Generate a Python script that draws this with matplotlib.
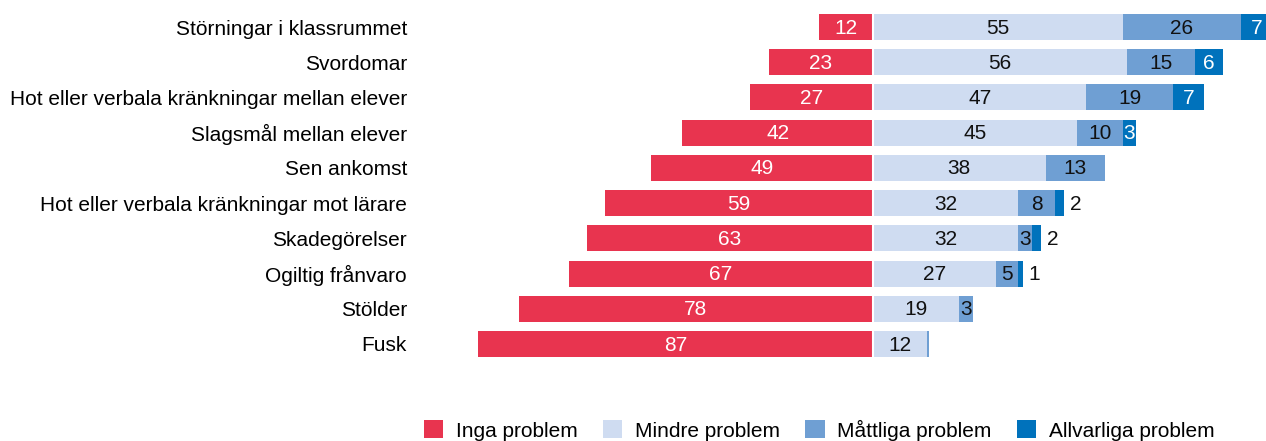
import numpy as np
import matplotlib.pyplot as plt
from matplotlib.patches import Patch

plt.rcParams['font.family'] = ['Liberation Sans', 'DejaVu Sans']

categories = [
    "Störningar i klassrummet",
    "Svordomar",
    "Hot eller verbala kränkningar mellan elever",
    "Slagsmål mellan elever",
    "Sen ankomst",
    "Hot eller verbala kränkningar mot lärare",
    "Skadegörelser",
    "Ogiltig frånvaro",
    "Stölder",
    "Fusk",
]
inga = [12, 23, 27, 42, 49, 59, 63, 67, 78, 87]
mindre = [55, 56, 47, 45, 38, 32, 32, 27, 19, 12]
mattliga = [26, 15, 19, 10, 13, 8, 3, 5, 3, 0.4]
allvarliga = [7, 6, 7, 3, 0, 2, 2, 1, 0, 0]

series_names = ["Inga problem", "Mindre problem", "Måttliga problem", "Allvarliga problem"]
colors = ["#E8344F", "#CFDCF1", "#6F9FD3", "#0072BC"]
text_colors = ["white", "#111111", "#111111", "white"]

fig = plt.figure(figsize=(12.66, 4.41), dpi=100)
ax = fig.add_axes([419 / 1266, 1 - 361.6 / 441, 1 - 419 / 1266, (361.6 - 9.4) / 441])

y = np.arange(len(categories))
h = 0.74
fs = 15

# left side: "Inga problem" grows to the left
ax.barh(y, [-v for v in inga], height=h, color=colors[0], linewidth=0)
for yi, v in zip(y, inga):
    ax.text(-v / 2, yi + 0.03, f"{v}", ha="center", va="center", color=text_colors[0], fontsize=fs)

# right side: stacked problem levels
left = np.zeros(len(categories))
for k, vals in enumerate([mindre, mattliga, allvarliga], start=1):
    vals = np.array(vals, dtype=float)
    ax.barh(y, vals, left=left, height=h, color=colors[k], linewidth=0)
    for yi, l, v in zip(y, left, vals):
        if v < 1:
            continue
        if k == 3 and v <= 2:
            # too narrow, put the number just outside the bar
            ax.text(l + v + 1.3, yi + 0.03, f"{v:.0f}", ha="left", va="center",
                    color="#111111", fontsize=fs)
        else:
            ax.text(l + v / 2, yi + 0.03, f"{v:.0f}", ha="center", va="center",
                    color=text_colors[k], fontsize=fs)
    left += vals

ax.axvline(0, color="white", lw=1.5)

ax.set_xlim(-100, (1266 - 873) / 4.54)
ax.set_ylim(len(categories) - 0.5, -0.5)
ax.set_yticks(y)
ax.set_yticklabels(categories, fontsize=fs)
ax.tick_params(axis="y", length=0, pad=8.6)
ax.set_xticks([])
for s in ax.spines.values():
    s.set_visible(False)

handles = [Patch(facecolor=c, edgecolor="none") for c in colors]
fig.legend(handles, series_names, loc="center", bbox_to_anchor=(819 / 1266, 1 - 430 / 441),
           ncol=4, frameon=False, fontsize=fs, handlelength=0.95, handleheight=0.95,
           handletextpad=0.6, columnspacing=1.2, borderaxespad=0)

fig.savefig("out.png", dpi=100)
